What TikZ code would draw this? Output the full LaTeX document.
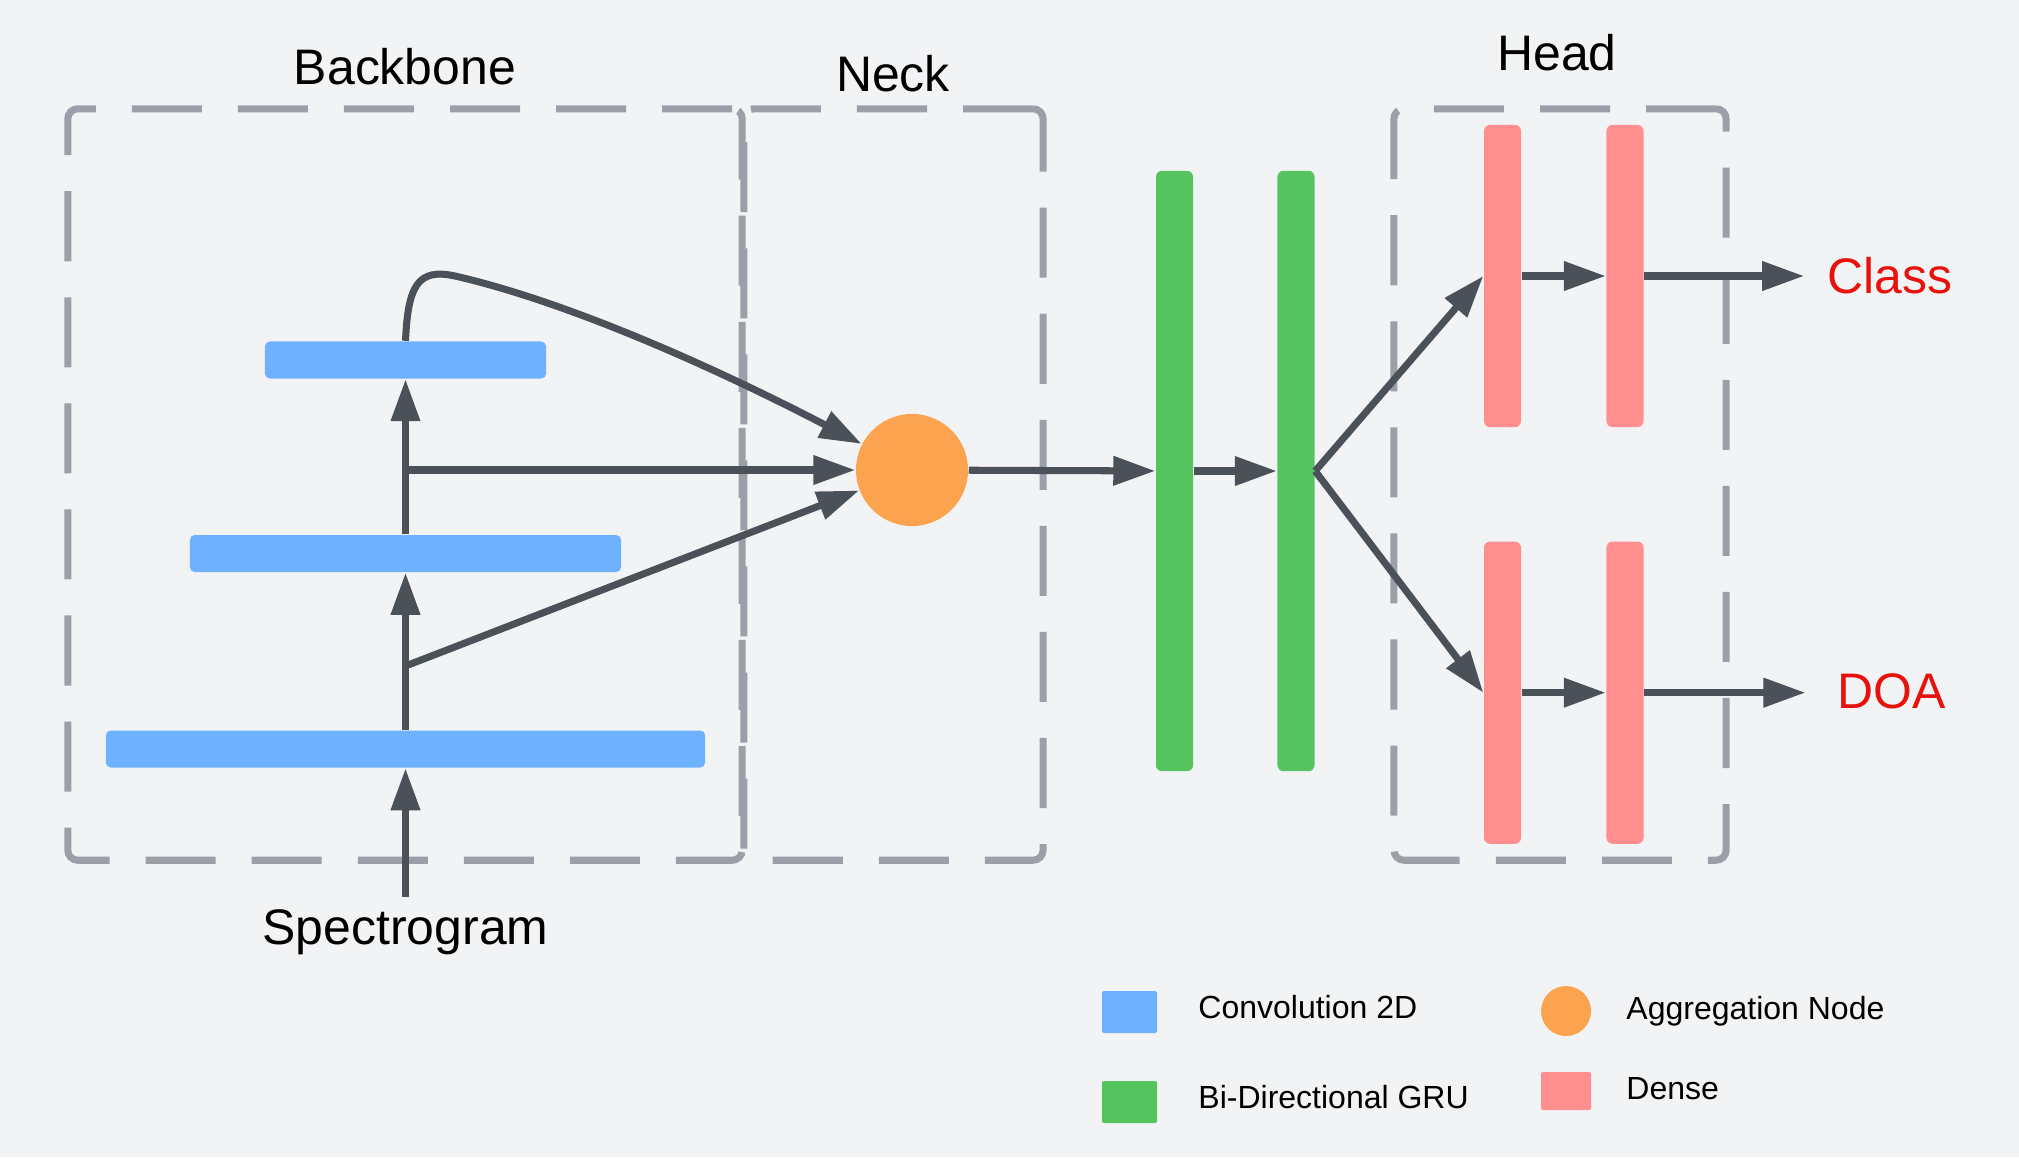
\documentclass[tikz,border=0pt]{standalone}
\usepackage{fontspec}
\setmainfont{Liberation Sans}
\usepackage{xcolor}
\usetikzlibrary{arrows.meta, positioning, shapes.geometric}
\definecolor{bgcol}{HTML}{F2F3F5}
\definecolor{convblue}{HTML}{6DB1FF}
\definecolor{grugreen}{HTML}{55C45E}
\definecolor{densered}{HTML}{FF8F8F}
\definecolor{aggorange}{HTML}{FBA34F}
\definecolor{linegray}{HTML}{4B5159}
\definecolor{boxgray}{HTML}{9BA0A8}
\definecolor{outred}{HTML}{E8120C}
\tikzset{
    conv/.style={rectangle, rounded corners=0.05cm, fill=convblue, minimum height=0.37cm, inner sep=0pt},
    gru/.style={rectangle, rounded corners=0.06cm, fill=grugreen, minimum width=0.37cm, minimum height=6cm, inner sep=0pt},
    dense/.style={rectangle, rounded corners=0.06cm, fill=densered, minimum width=0.37cm, minimum height=3.02cm, inner sep=0pt},
    aggnode/.style={circle, fill=aggorange, minimum size=1.12cm, inner sep=0pt},
    groupbox/.style={rectangle, rounded corners=0.1cm, draw=boxgray, line width=2pt, dash pattern=on 0.7cm off 0.36cm, inner sep=0pt, minimum height=7.51cm},
    arrow/.style={line width=2pt, draw=linegray, -{Triangle[length=0.42cm, width=0.28cm]}}
}

\begin{document}
\begin{tikzpicture}[
    x=0.01cm, y=-0.01cm,
    grouplabel/.style={font=\fontsize{14.2}{17}\selectfont},
    outlabel/.style={font=\fontsize{14.2}{17}\selectfont, text=outred},
    legendtext/.style={font=\fontsize{9.1}{11}\selectfont, anchor=west}
]

    % background
    \fill[bgcol] (0,0) rectangle (2019,1157);
    \useasboundingbox (0,0) rectangle (2019,1157);

    % Group boxes
    \node (backbone) [groupbox, minimum width=6.74cm] at (405,484.5) {};
    \node (neck) [groupbox, minimum width=2.99cm] at (893.5,484.5) {};
    \node (head) [groupbox, minimum width=3.32cm] at (1560,484.5) {};
    \node (backbonelbl) [grouplabel] at (405,67) {Backbone};
    \node (necklbl) [grouplabel] at (893,74) {Neck};
    \node (headlbl) [grouplabel] at (1557,53) {Head};

    % Backbone: Conv 2D layers
    \node (conv3) [conv, minimum width=2.81cm] at (405.5,360) {};
    \node (conv2) [conv, minimum width=4.31cm, below=1.55cm of conv3] {};
    \node (conv1) [conv, minimum width=5.99cm, below=1.57cm of conv2] {};
    \node (spec) [grouplabel] at (405.5,932) {Spectrogram};
    \coordinate (taplow) at (405.5,666);
    \coordinate (tapmid) at (405.5,470);

    % Neck: aggregation
    \node (agg) [aggnode] at (912,470) {};

    % Bi-directional GRU
    \node (gru1) [gru] at (1174.5,471) {};
    \node (gru2) [gru, right=0.83cm of gru1] {};

    % Head: dense layers
    \node (d1a) [dense] at (1502.5,276) {};
    \node (d1b) [dense, right=0.84cm of d1a] {};
    \node (d2a) [dense, below=1.13cm of d1a] {};
    \node (d2b) [dense, below=1.13cm of d1b] {};
    \node (cls) [outlabel] at (1890,276) {Class};
    \node (doa) [outlabel] at (1892,691) {DOA};

    % Connections
    \draw [arrow] (spec) -- (conv1);
    \draw [arrow] (conv1) -- (conv2);
    \draw [arrow] (conv2) -- (conv3);
    \draw [arrow] (tapmid) -- (agg);
    \draw [arrow] (taplow) -- (agg);
    \draw [arrow] (conv3.north) .. controls (408,285) and (418,268) .. (455,276)
        .. controls (560,300) and (700,360) .. (agg);
    \draw [arrow] (agg) -- (gru1);
    \draw [arrow] (gru1) -- (gru2);
    \draw [arrow] (gru2.east) -- (d1a.west);
    \draw [arrow] (gru2.east) -- (d2a.west);
    \draw [arrow] (d1a) -- (d1b);
    \draw [arrow] (d2a) -- (d2b);
    \draw [arrow, shorten >=0.11cm] (d1b.east) -- (d1b.east -| cls.west);
    \draw [arrow, shorten >=0.2cm] (d2b.east) -- (d2b.east -| doa.west);

    % Legend
    \node (legconv) [conv, minimum width=0.55cm, minimum height=0.42cm, rounded corners=0.02cm] at (1129.5,1012) {};
    \node (leggru) [gru, minimum height=0.42cm, minimum width=0.55cm, rounded corners=0.02cm] at (1129.5,1102) {};
    \node (legagg) [aggnode, minimum size=0.5cm] at (1566,1011) {};
    \node (legdense) [dense, minimum width=0.5cm, minimum height=0.38cm, rounded corners=0.02cm] at (1566,1091) {};
    \node (legconvtxt) [legendtext] at (1186,1007) {Convolution 2D};
    \node (leggrutxt) [legendtext] at (1186,1097) {Bi-Directional GRU};
    \node (legaggtxt) [legendtext] at (1614,1011) {Aggregation Node};
    \node (legdensetxt) [legendtext] at (1614,1089) {Dense};

\end{tikzpicture}
\end{document}
